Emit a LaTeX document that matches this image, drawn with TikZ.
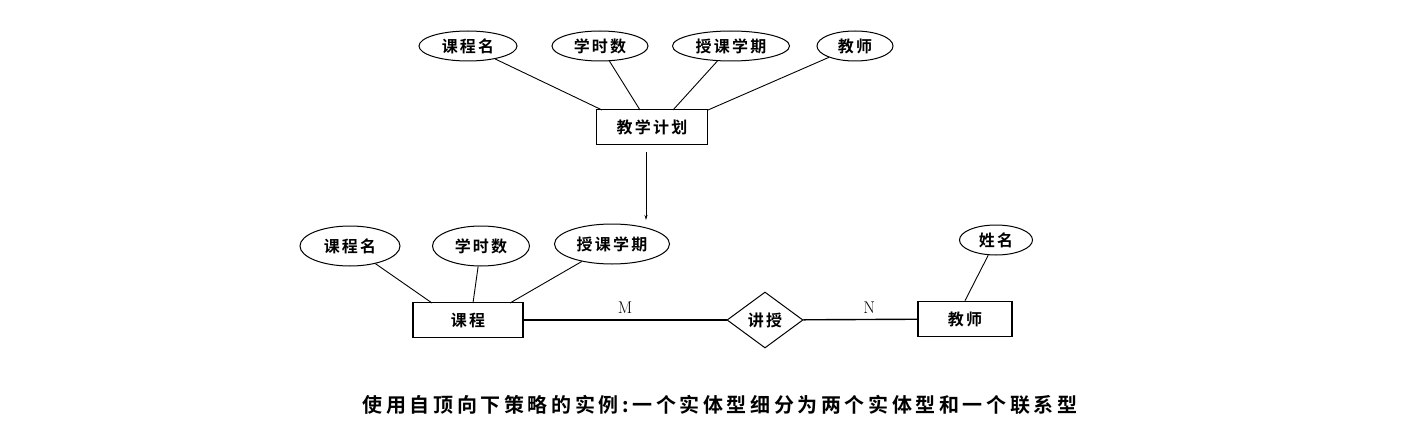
\documentclass[tikz,border=0pt]{standalone}
\usepackage{fontspec}
\newfontfamily\cjk[LetterSpace=14]{Noto Sans CJK SC Bold}
\newfontfamily\cjkcap[LetterSpace=18]{Noto Sans CJK SC Bold}
\usetikzlibrary{shapes.geometric,arrows.meta}

\tikzset{
  attr/.style={draw,ellipse,line width=1pt,inner sep=0pt,minimum height=30pt,font=\cjk\fontsize{16}{16}\selectfont},
  entity/.style={draw,rectangle,line width=1.6pt,inner sep=0pt,minimum height=35pt,font=\cjk\fontsize{16}{16}\selectfont},
  rel/.style={draw,diamond,line width=1pt,inner sep=0pt,minimum width=76pt,minimum height=56pt,font=\cjk\fontsize{16}{16}\selectfont},
  link/.style={line width=0.9pt},
  card/.style={font=\fontsize{17}{17}\selectfont}
}

\begin{document}
\begin{tikzpicture}[x=1pt,y=-1pt]
\useasboundingbox (0,0) rectangle (1427,444);
\node[attr,minimum width=98pt] (pname) at (468,46) {课程名};
\node[attr,minimum width=96pt] (phours) at (600,46) {学时数};
\node[attr,minimum width=117pt] (pterm) at (731,46) {授课学期};
\node[attr,minimum width=76pt] (pteacher) at (855,46) {教师};
\node[entity,minimum width=111pt] (plan) at (652,127) {教学计划};
\draw[link] (pname) -- (602,110);
\draw[link] (phours) -- (640,110);
\draw[link] (pterm) -- (673,110);
\draw[link] (pteacher) -- (708,110);
\node[attr,minimum width=100pt,minimum height=40pt] (cname) at (350,246) {课程名};
\node[attr,minimum width=97pt,minimum height=40pt] (chours) at (481,246) {学时数};
\node[attr,minimum width=115pt,minimum height=40pt] (cterm) at (612,244) {授课学期};
\node[entity,minimum width=110pt] (course) at (468,320) {课程};
\coordinate (arrowend) at (646,220);
\draw[link,-{Stealth[length=5pt,width=3pt]}] (646,152) -- (arrowend);
\draw[link] (cname) -- (432,303);
\draw[link] (chours) -- (473,303);
\draw[link] (cterm) -- (510,303);
\node[rel] (teach) at (765,320) {讲授};
\node[entity,minimum width=94pt] (teacher) at (965,319) {教师};
\node[attr,minimum width=73pt] (tname) at (996,240) {姓名};
\draw[link,line width=1.4pt] (course) -- node[card,above=2pt,pos=0.5] (m) {M} (teach);
\draw[link,line width=1.4pt] (teach) -- node[card,above=2pt,pos=0.58] (n) {N} (teacher);
\draw[link] (tname) -- (teacher.north);
\node[font=\cjkcap\fontsize{20}{20}\selectfont] (caption) at (720,405) {使用自顶向下策略的实例:一个实体型细分为两个实体型和一个联系型};
\end{tikzpicture}
\end{document}
